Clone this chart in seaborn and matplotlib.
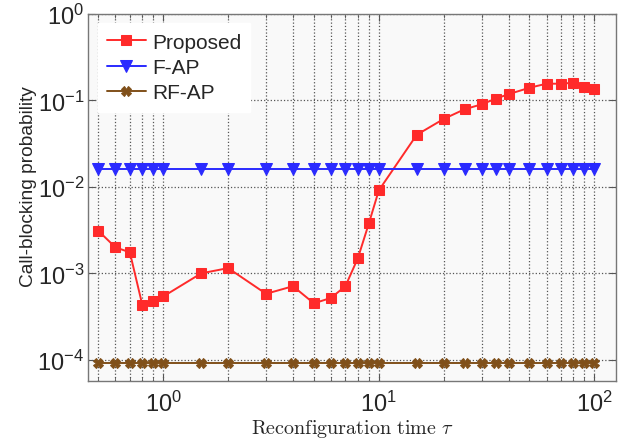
import numpy as np
import pandas as pd
import matplotlib
matplotlib.use("Agg")
import matplotlib.pyplot as plt
import seaborn as sns
from matplotlib.ticker import LogLocator, NullFormatter

tau = [0.5, 0.6, 0.7, 0.8, 0.9, 1, 1.5, 2, 3, 4, 5, 6, 7, 8, 9, 10,
       15, 20, 25, 30, 35, 40, 50, 60, 70, 80, 90, 100]
proposed = [3.1e-3, 2.0e-3, 1.75e-3, 4.3e-4, 4.8e-4, 5.4e-4, 1.0e-3, 1.15e-3,
            5.8e-4, 7.1e-4, 4.5e-4, 5.2e-4, 7.1e-4, 1.5e-3, 3.8e-3, 9.1e-3,
            0.040, 0.061, 0.079, 0.090, 0.105, 0.118, 0.140, 0.156, 0.156,
            0.160, 0.144, 0.135]
fap = [0.0162] * len(tau)
rfap = [9.2e-5] * len(tau)

sns.set_style("ticks")
plt.rcParams['font.family'] = ['Liberation Sans', 'DejaVu Sans']
plt.rcParams['mathtext.fontset'] = 'custom'
plt.rcParams['mathtext.rm'] = 'Liberation Sans'
plt.rcParams['mathtext.it'] = 'Liberation Sans:italic'

fig, ax = plt.subplots(figsize=(6.26, 4.39), dpi=100)
fig.subplots_adjust(left=0.141, right=0.984, top=0.966, bottom=0.130)
ax.set_facecolor('#f9f9f9')

red = '#ff2a2a'
blue = '#2a2aff'
brown = '#80501a'

sns.lineplot(x=tau, y=proposed, ax=ax, color=red, marker='s', markersize=7,
             markeredgecolor=red, linewidth=1.4, label='Proposed')
sns.lineplot(x=tau, y=fap, ax=ax, color=blue, marker='v', markersize=8.5,
             markeredgecolor=blue, linewidth=1.4, label='F-AP')
sns.lineplot(x=tau, y=rfap, ax=ax, color=brown, marker='X', markersize=7,
             markeredgecolor=brown, linewidth=1.4, label='RF-AP')

ax.set_xscale('log')
ax.set_yscale('log')
ax.set_xlim(0.449, 126)
ax.set_ylim(5.7e-5, 1)

ax.xaxis.set_minor_locator(LogLocator(base=10, subs=np.arange(2, 10), numticks=20))
ax.xaxis.set_minor_formatter(NullFormatter())
ax.yaxis.set_minor_formatter(NullFormatter())
ax.yaxis.set_minor_locator(LogLocator(base=10, subs=[], numticks=20))

ax.grid(True, which='major', axis='both', linestyle=':', color='#555555', linewidth=0.9)
ax.grid(True, which='minor', axis='x', linestyle=':', color='#555555', linewidth=0.9)
ax.set_axisbelow(True)

ax.tick_params(which='both', direction='in', top=True, right=True,
               labelsize=17, color='#555555')
ax.tick_params(which='major', length=5)
ax.tick_params(which='minor', length=3)
ax.tick_params(axis='x', which='major', pad=7)
ax.tick_params(axis='y', which='major', pad=3)
for s in ax.spines.values():
    s.set_color('#777777')
    s.set_linewidth(1.0)

ax.set_ylabel('Call-blocking probability', fontsize=13.8)
ax.yaxis.set_label_coords(-0.097, 0.533)
ax.set_xlabel(r'$\mathrm{Reconfiguration\ time}\ \tau$', fontsize=14.5,
              math_fontfamily='cm')
ax.xaxis.set_label_coords(0.5, -0.098)

leg = ax.legend(loc='upper left', fontsize=15, frameon=True, fancybox=False,
                handlelength=1.85, handletextpad=0.3, borderaxespad=0.45,
                labelspacing=0.3, borderpad=0.45)
leg.get_frame().set_facecolor('white')
leg.get_frame().set_edgecolor('white')
leg.get_frame().set_alpha(1)

fig.savefig('out.png', dpi=100)
